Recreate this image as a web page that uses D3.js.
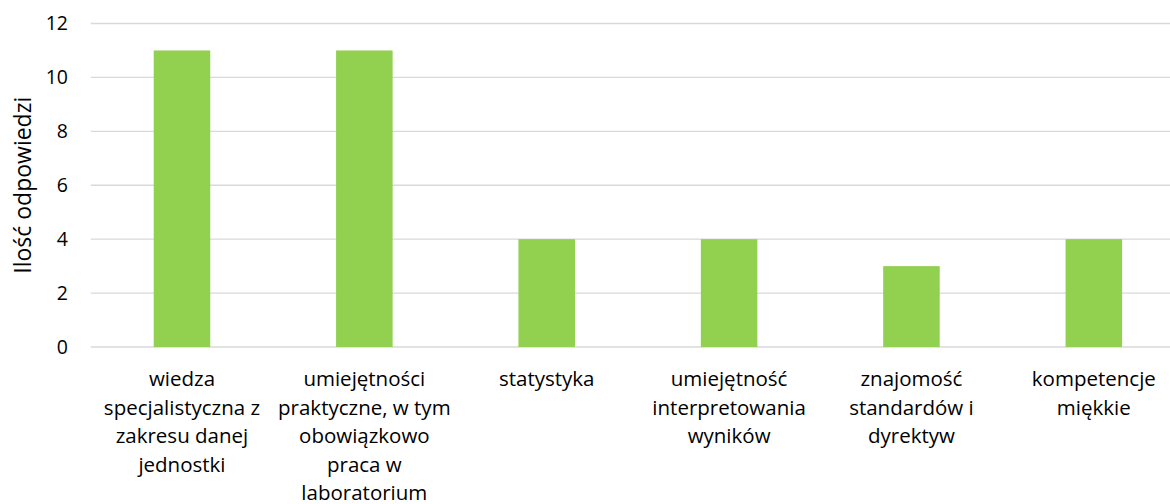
<!DOCTYPE html>
<html>
<head>
<meta charset="utf-8">
<script src="https://cdn.jsdelivr.net/npm/d3@7"></script>
<style>
  html, body { margin: 0; padding: 0; background: #fff; }
  svg { display: block; }
  text { font-family: "Open Sans", Lato, sans-serif; fill: #000; }
</style>
</head>
<body>
<svg id="chart" width="1170" height="504"></svg>
<script>
// Category labels, pre-broken into lines
const categories = [
  ["wiedza", "specjalistyczna z", "zakresu danej", "jednostki"],
  ["umiejętności", "praktyczne, w tym", "obowiązkowo", "praca w", "laboratorium"],
  ["statystyka"],
  ["umiejętność", "interpretowania", "wyników"],
  ["znajomość", "standardów i", "dyrektyw"],
  ["kompetencje", "miękkie"]
];
const values = [11, 11, 4, 4, 3, 4];
const yTicks = [0, 2, 4, 6, 8, 10, 12];
const yTitle = "Ilość odpowiedzi";

const FONT = "'Open Sans', Lato, sans-serif";
const svg = d3.select("#chart");
const plot = { left: 90.8, right: 1185, top: 23.5, bottom: 347 };

const keys = categories.map((c, i) => i);
const x = d3.scaleBand()
  .domain(keys)
  .range([plot.left, plot.right])
  .paddingInner(0.69)
  .paddingOuter(0.345);

const y = d3.scaleLinear().domain([0, 12]).range([plot.bottom, plot.top]);

// Horizontal gridlines
svg.append("g")
  .selectAll("line")
  .data(yTicks)
  .join("line")
  .attr("x1", plot.left)
  .attr("x2", plot.right)
  .attr("y1", d => y(d))
  .attr("y2", d => y(d))
  .attr("stroke", "#D9D9D9")
  .attr("stroke-width", 1.3);

// Y tick labels
const yAxis = d3.axisLeft(y).tickValues(yTicks).tickSize(0).tickPadding(0);
const gy = svg.append("g")
  .attr("transform", `translate(68,0)`)
  .call(yAxis);
gy.select(".domain").remove();
gy.selectAll("text")
  .style("font-family", FONT)
  .style("font-size", "19.5px")
  .attr("fill", "#000");

// Bars
svg.append("g")
  .selectAll("rect")
  .data(values)
  .join("rect")
  .attr("x", (d, i) => x(i))
  .attr("width", x.bandwidth())
  .attr("y", d => y(d))
  .attr("height", d => y(0) - y(d))
  .attr("fill", "#92D050");

// Category labels
const lineH = 28.5;
const labels = svg.append("g")
  .selectAll("text")
  .data(categories)
  .join("text")
  .attr("text-anchor", "middle")
  .attr("x", (d, i) => x(i) + x.bandwidth() / 2)
  .attr("y", 386)
  .style("font-size", "20.5px");
labels.selectAll("tspan")
  .data(d => d)
  .join("tspan")
  .attr("x", function () { return d3.select(this.parentNode).attr("x"); })
  .attr("dy", (d, i) => i === 0 ? 0 : lineH)
  .text(d => d);

// Y axis title
svg.append("text")
  .attr("transform", `translate(31,${(plot.top + plot.bottom) / 2}) rotate(-90)`)
  .attr("text-anchor", "middle")
  .style("font-size", "23px")
  .text(yTitle);
</script>
</body>
</html>
